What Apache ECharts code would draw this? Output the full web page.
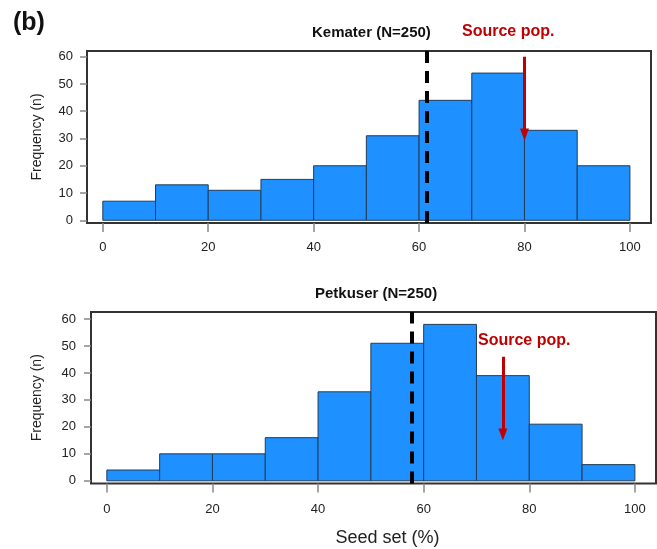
<!DOCTYPE html>
<html>
<head>
<meta charset="utf-8">
<script src="https://cdn.jsdelivr.net/npm/echarts@6/dist/echarts.min.js"></script>
<style>
  html, body { margin: 0; padding: 0; background: #fff; }
  #chart { width: 657px; height: 549px; }
</style>
</head>
<body>
<div id="chart"></div>
<script>
// histogram bins (seed set %, 10-wide bins)
var binStarts = [0, 10, 20, 30, 40, 50, 60, 70, 80, 90]
var binWidth = 10
var kematerCounts = [7, 13, 11, 15, 20, 31, 44, 54, 33, 20]
var petkuserCounts = [4, 10, 10, 16, 33, 51, 58, 39, 21, 6]

// means (dashed) and source population arrows
var kematerMean = 61.4
var petkuserMean = 57.8
var kematerArrow = [[80, 60], [80, 31.5]]
var petkuserArrow = [[75, 46], [75, 17.2]]

var xTicks = [0, 20, 40, 60, 80, 100]
var yTicks = [0, 10, 20, 30, 40, 50, 60]

var font = 'Liberation Sans, Arial, sans-serif'
var red = '#c00000'

function binData (counts) {
  return counts.map(function (c, i) {
    return [binStarts[i], binStarts[i] + binWidth, c]
  })
}

function renderBin (params, api) {
  var p0 = api.coord([api.value(0), api.value(2)])
  var p1 = api.coord([api.value(1), 0])
  return {
    type: 'rect',
    shape: { x: p0[0], y: p0[1], width: p1[0] - p0[0], height: p1[1] - p0[1] },
    style: { fill: '#1e90ff', stroke: '#233d57', lineWidth: 1 }
  }
}

function xAxisOf (idx, margin) {
  return {
    type: 'value', gridIndex: idx, min: -3, max: 104,
    axisLine: { show: false, onZero: false },
    splitLine: { show: false },
    axisTick: { customValues: xTicks, length: 9, lineStyle: { color: '#888', width: 1.5 } },
    axisLabel: { customValues: xTicks, margin: margin, fontSize: 13, color: '#222', fontFamily: font }
  }
}

function yAxisOf (idx, max, margin, nameGap) {
  return {
    type: 'value', gridIndex: idx, min: -1, max: max,
    name: 'Frequency (n)', nameLocation: 'middle', nameGap: nameGap,
    nameTextStyle: { fontSize: 14, color: '#222', fontFamily: font },
    axisLine: { show: false, onZero: false },
    splitLine: { show: false },
    axisTick: { customValues: yTicks, length: 7, lineStyle: { color: '#888', width: 1.5 } },
    axisLabel: { customValues: yTicks, margin: margin, fontSize: 13, color: '#222', fontFamily: font }
  }
}

function histSeries (idx, counts, mean, arrow) {
  return [
    {
      type: 'custom', xAxisIndex: idx, yAxisIndex: idx,
      data: binData(counts),
      renderItem: renderBin,
      silent: true,
      markLine: {
        silent: true, symbol: 'none', animation: false,
        label: { show: false },
        lineStyle: { color: '#000', width: 4, type: [12, 8] },
        data: [{ xAxis: mean }]
      }
    },
    {
      type: 'line', xAxisIndex: idx, yAxisIndex: idx,
      data: [], silent: true,
      markLine: {
        silent: true, animation: false,
        symbol: ['none', 'triangle'], symbolSize: [9, 12],
        label: { show: false },
        lineStyle: { color: red, width: 3, type: 'solid' },
        data: [[{ coord: arrow[0] }, { coord: arrow[1] }]]
      }
    }
  ]
}

var titleStyle = { fontSize: 15, fontWeight: 'bold', color: '#111', fontFamily: font }
var noteStyle = { fontSize: 16, fontWeight: 'bold', color: red, fontFamily: font }

var chart = echarts.init(document.getElementById('chart'))
chart.setOption({
  animation: false,
  title: [
    { text: '(b)', left: 13, top: 11, padding: 0, textStyle: { fontSize: 25, fontWeight: 'bold', color: '#111', fontFamily: font } },
    { text: 'Kemater (N=250)', left: 312, top: 25, padding: 0, textStyle: titleStyle },
    { text: 'Petkuser (N=250)', left: 315, top: 286, padding: 0, textStyle: titleStyle },
    { text: 'Source pop.', left: 462, top: 24, padding: 0, textStyle: noteStyle },
    { text: 'Source pop.', left: 478, top: 333, padding: 0, textStyle: noteStyle }
  ],
  grid: [
    { left: 87, top: 51, width: 564, height: 172, show: true, borderColor: '#333', borderWidth: 2, backgroundColor: 'transparent' },
    { left: 91, top: 312, width: 565, height: 171.5, show: true, borderColor: '#333', borderWidth: 2, backgroundColor: 'transparent' }
  ],
  xAxis: [
    xAxisOf(0, 18),
    Object.assign(xAxisOf(1, 19), {
      name: 'Seed set (%)', nameLocation: 'middle', nameGap: 46,
      nameTextStyle: { fontSize: 18, color: '#222', fontFamily: font, padding: [0, 0, 0, 28] }
    })
  ],
  yAxis: [
    yAxisOf(0, 62.1, 14, 43),
    yAxisOf(1, 62.6, 15, 47)
  ],
  series: histSeries(0, kematerCounts, kematerMean, kematerArrow)
    .concat(histSeries(1, petkuserCounts, petkuserMean, petkuserArrow))
})
</script>
</body>
</html>
